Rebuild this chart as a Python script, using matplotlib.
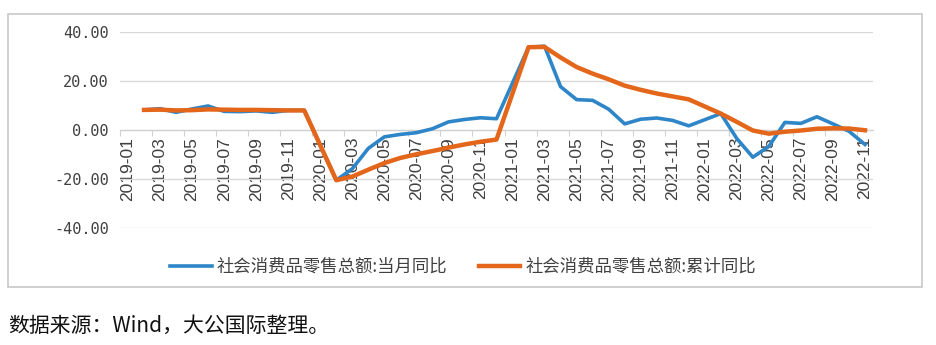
import numpy as np
import matplotlib
matplotlib.use("Agg")
import matplotlib.pyplot as plt
from matplotlib.patches import Rectangle
from matplotlib.ticker import FixedLocator, FixedFormatter

plt.rcParams['font.family'] = ['Noto Sans CJK SC', 'DejaVu Sans']
plt.rcParams['axes.unicode_minus'] = False

# monthly categories 2019-01 .. 2022-11 (January folded into Jan-Feb, so no value)
months = [f"{y}-{m:02d}" for y in range(2019, 2023) for m in range(1, 13)][:47]

nan = np.nan
monthly_yoy = [nan, 8.2, 8.7, 7.2, 8.6, 9.8, 7.6, 7.5, 7.8, 7.2, 8.0, 8.0,
               nan, -20.5, -15.8, -7.5, -2.8, -1.8, -1.1, 0.5, 3.3, 4.3, 5.0, 4.6,
               nan, 33.8, 34.2, 17.7, 12.4, 12.1, 8.5, 2.5, 4.4, 4.9, 3.9, 1.7,
               nan, 6.7, -3.5, -11.1, -6.7, 3.1, 2.7, 5.4, 2.5, -0.5, -5.9]
cumulative_yoy = [nan, 8.2, 8.3, 8.0, 8.1, 8.4, 8.3, 8.2, 8.2, 8.1, 8.0, 8.0,
                  nan, -20.5, -19.0, -16.2, -13.5, -11.4, -9.9, -8.6, -7.2, -5.9, -4.8, -3.9,
                  nan, 33.8, 33.9, 29.6, 25.7, 23.0, 20.7, 18.1, 16.4, 14.9, 13.7, 12.5,
                  nan, 6.7, 3.3, -0.2, -1.5, -0.7, -0.2, 0.5, 0.7, 0.6, -0.1]

label_monthly = "社会消费品零售总额:当月同比"
label_cumulative = "社会消费品零售总额:累计同比"
source_note = "数据来源：Wind，大公国际整理。"

W, H = 936, 345
fig = plt.figure(figsize=(W / 100, H / 100), dpi=100)
ax = fig.add_axes([120 / W, 1 - 228 / H, 753 / W, 196 / H])

x = np.arange(len(months))
m1 = np.array(monthly_yoy)
m2 = np.array(cumulative_yoy)
ok1 = ~np.isnan(m1)
ok2 = ~np.isnan(m2)
ax.plot(x[ok1], m1[ok1], color="#2E86C8", lw=2.6, solid_joinstyle="round",
        label=label_monthly, zorder=3)
ax.plot(x[ok2], m2[ok2], color="#E4661B", lw=3.2, solid_joinstyle="round",
        label=label_cumulative, zorder=4)

ax.set_xlim(-0.5, len(months) - 0.5)
ax.set_ylim(-40, 40)
ax.set_yticks([-40, -20, 0, 20, 40])
ax.set_yticklabels([f"{v:.2f}" for v in [-40, -20, 0, 20, 40]],
                   family="DejaVu Sans Mono")
ax.grid(axis="y", color="#d9d9d9", lw=1)
ax.set_axisbelow(True)

for s in ["top", "right", "left"]:
    ax.spines[s].set_visible(False)
ax.spines["bottom"].set_position(("data", 0))
ax.spines["bottom"].set_color("#d0d0d0")

# tick marks on category boundaries, labels centred on the category
ax.xaxis.set_major_locator(FixedLocator(np.arange(-0.5, len(months), 2)))
ax.xaxis.set_major_formatter(FixedFormatter([""] * 24))
ax.xaxis.set_minor_locator(FixedLocator(x[::2]))
ax.xaxis.set_minor_formatter(FixedFormatter(months[::2]))
ax.tick_params(axis="x", which="major", length=4, color="#d0d0d0")
ax.tick_params(axis="x", which="minor", length=0, pad=5, labelsize=12.5,
               labelrotation=90, labelcolor="#404040")
for t in ax.xaxis.get_minorticklabels():
    t.set_family("Liberation Sans")
ax.tick_params(axis="y", length=0, pad=8, labelsize=11, labelcolor="#404040")

fig.legend(loc="center", bbox_to_anchor=(463 / W, 1 - 267 / H), ncol=2,
           frameon=False, fontsize=12.5, handlelength=2.4, handletextpad=0.3,
           columnspacing=1.8, labelcolor="#404040")

fig.patches.append(Rectangle((8 / W, 1 - 287 / H), 914 / W, 273 / H,
                             transform=fig.transFigure, fill=False,
                             edgecolor="#c8c8c8", lw=1.2))
fig.text(8 / W, 1 - 326 / H, source_note, fontsize=15, va="center", ha="left",
         color="#111111")

fig.savefig("out.png", dpi=100)
